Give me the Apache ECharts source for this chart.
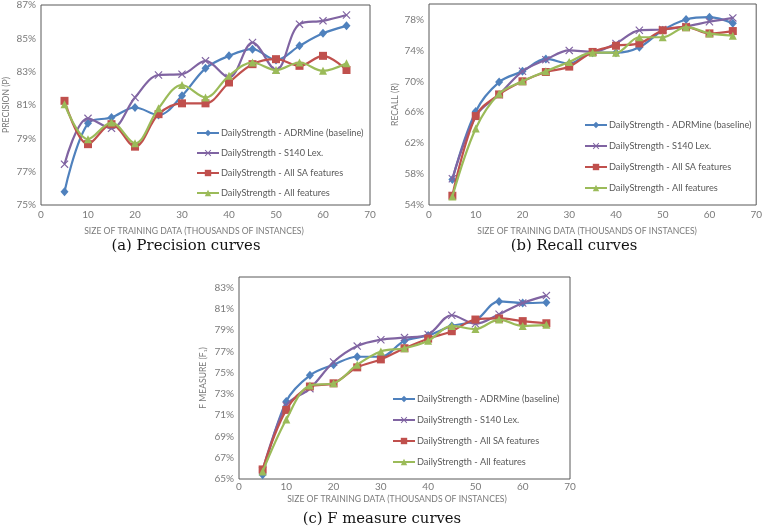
<!DOCTYPE html>
<html>
<head>
<meta charset="utf-8">
<script src="https://cdn.jsdelivr.net/npm/echarts@6/dist/echarts.min.js"></script>
<style>html,body{margin:0;padding:0;background:#fff}#c{width:765px;height:528px}</style>
</head>
<body>
<div id="c"></div>
<script>
const xValues = [5, 10, 15, 20, 25, 30, 35, 40, 45, 50, 55, 60, 65];
const seriesNames = [
  'DailyStrength - ADRMine (baseline)',
  'DailyStrength - S140 Lex.',
  'DailyStrength - All SA features',
  'DailyStrength - All features'
];
// Precision (a)
const precBaseline = [75.8, 79.9, 80.25, 80.85, 80.4, 81.55, 83.2, 83.95, 84.35, 83.7, 84.55, 85.3, 85.75];
const precS140     = [77.45, 80.2, 79.6, 81.45, 82.8, 82.85, 83.65, 82.65, 84.75, 83.1, 85.85, 86.05, 86.4];
const precAllSA    = [81.25, 78.65, 79.85, 78.5, 80.45, 81.1, 81.1, 82.35, 83.45, 83.75, 83.35, 83.95, 83.1];
const precAll      = [81.05, 78.95, 79.95, 78.7, 80.8, 82.2, 81.45, 82.75, 83.55, 83.1, 83.55, 83.05, 83.5];
// Recall (b)
const recBaseline = [57.3, 66.1, 69.9, 71.3, 72.9, 72.3, 73.7, 73.7, 74.4, 76.6, 78.0, 78.3, 77.5];
const recS140     = [57.4, 65.5, 68.3, 71.3, 72.8, 74.0, 73.8, 74.9, 76.6, 76.7, 77.1, 77.7, 78.2];
const recAllSA    = [55.2, 65.5, 68.3, 70.0, 71.2, 71.9, 73.8, 74.6, 74.9, 76.6, 77.0, 76.2, 76.5];
const recAll      = [55.1, 63.9, 68.4, 70.0, 71.3, 72.5, 73.7, 73.7, 75.7, 75.7, 77.0, 76.2, 75.9];
// F measure (c)
const fBaseline = [65.4, 72.3, 74.75, 75.75, 76.5, 76.5, 78.0, 78.5, 79.4, 79.9, 81.7, 81.55, 81.6];
const fS140     = [65.8, 71.9, 73.5, 76.0, 77.5, 78.1, 78.3, 78.6, 80.4, 79.6, 80.5, 81.55, 82.25];
const fAllSA    = [65.9, 71.5, 73.7, 74.0, 75.5, 76.25, 77.3, 78.2, 78.9, 80.0, 80.1, 79.85, 79.65];
const fAll      = [65.7, 70.6, 73.8, 74.0, 75.75, 77.0, 77.3, 78.0, 79.4, 79.1, 80.0, 79.4, 79.5];

const xTicks = [0, 10, 20, 30, 40, 50, 60, 70];
const precTicks = [75, 77, 79, 81, 83, 85, 87];
const recTicks = [54, 58, 62, 66, 70, 74, 78];
const fTicks = [65, 67, 69, 71, 73, 75, 77, 79, 81, 83];

const xName = 'SIZE OF TRAINING DATA (THOUSANDS OF INSTANCES)';
const yNames = ['PRECISION (P)', 'RECALL (R)', 'F MEASURE (F\u2081)'];
const captions = ['(a) Precision curves', '(b) Recall curves', '(c) F measure curves'];

const colors = ['#4F81BD', '#8064A2', '#C0504D', '#9BBB59'];
const xSym = 'path://M1,0L5,4L9,0L10,1L6,5L10,9L9,10L5,6L1,10L0,9L4,5L0,1Z';
const symbols = ['diamond', xSym, 'rect', 'triangle'];
const symSizes = [[8, 9], 8, 8, 8];

const panels = [
  {data: [precBaseline, precS140, precAllSA, precAll], ticks: precTicks, min: 75, max: 87, step: 1,
   grid: {left: 41, top: 4, width: 329, height: 201},
   legend: {left: 196, top: 127, itemGap: 8},
   xNamePad: [0, 23, 0, 0], xNameGap: 22, xLabelMargin: 5, yNameGap: 30, caption: [186, 246]},
  {data: [recBaseline, recS140, recAllSA, recAll], ticks: recTicks, min: 54, max: 80, step: 2,
   grid: {left: 429, top: 4, width: 329, height: 201},
   legend: {left: 584, top: 119, itemGap: 9},
   xNamePad: [0, 11, 0, 0], xNameGap: 22, xLabelMargin: 5, yNameGap: 29, caption: [574, 246]},
  {data: [fBaseline, fS140, fAllSA, fAll], ticks: fTicks, min: 65, max: 84, step: 1,
   grid: {left: 239, top: 277, width: 331, height: 202},
   legend: {left: 392, top: 393, itemGap: 9},
   xNamePad: [0, 15, 0, 0], xNameGap: 16, xLabelMargin: 3, yNameGap: 31, caption: [382, 519]}
];

const labelFont = 'Lato, "Open Sans", sans-serif';
const grids = [], xAxes = [], yAxes = [], series = [], legends = [], graphics = [];
panels.forEach((p, pi) => {
  grids.push(Object.assign({show: true, borderColor: '#595959', borderWidth: 1, backgroundColor: 'transparent'}, p.grid));
  xAxes.push({
    type: 'value', gridIndex: pi, min: xTicks[0], max: xTicks[xTicks.length - 1], interval: 10,
    name: xName, nameLocation: 'middle', nameGap: p.xNameGap,
    nameTextStyle: {fontFamily: labelFont, fontSize: 8.6, color: '#7a7a7a', padding: p.xNamePad},
    axisLine: {show: false}, axisTick: {show: false}, splitLine: {show: false},
    axisLabel: {fontFamily: labelFont, fontSize: 10, color: '#7a7a7a', margin: p.xLabelMargin}
  });
  const tickSet = new Set(p.ticks);
  yAxes.push({
    type: 'value', gridIndex: pi, min: p.min, max: p.max, interval: p.step,
    name: yNames[pi], nameLocation: 'middle', nameGap: p.yNameGap, nameRotate: 90,
    nameTextStyle: {fontFamily: labelFont, fontSize: 8.6, color: '#7a7a7a'},
    axisLine: {show: false}, axisTick: {show: false}, splitLine: {show: false},
    axisLabel: {fontFamily: labelFont, fontSize: 10, color: '#7a7a7a', margin: 5,
      formatter: v => tickSet.has(Math.round(v)) && Math.abs(v - Math.round(v)) < 1e-6 ? Math.round(v) + '%' : ''}
  });
  p.data.forEach((arr, si) => {
    series.push({
      type: 'line', name: seriesNames[si], xAxisIndex: pi, yAxisIndex: pi,
      data: xValues.map((x, i) => [x, arr[i]]),
      smooth: 0.35, symbol: symbols[si], symbolSize: symSizes[si],
      lineStyle: {width: 2.2, color: colors[si]},
      itemStyle: {color: colors[si]},
      emphasis: {disabled: true}, animation: false, z: 2 + si
    });
  });
  legends.push({
    orient: 'vertical', left: p.legend.left, top: p.legend.top, itemGap: p.legend.itemGap,
    padding: 0, itemWidth: 22, itemHeight: 8, selectedMode: false, data: seriesNames,
    textStyle: {fontFamily: labelFont, fontSize: 9.2, color: '#595959', lineHeight: 12, padding: [0, 0, 0, -3]}
  });
  graphics.push({
    type: 'text', x: p.caption[0], y: p.caption[1],
    style: {text: captions[pi], fontFamily: '"DejaVu Serif", serif', fontSize: 14.8, fill: '#111',
      textAlign: 'center', textVerticalAlign: 'middle'}
  });
});

const chart = echarts.init(document.getElementById('c'), null, {renderer: 'canvas'});
chart.setOption({
  backgroundColor: '#fff', animation: false, color: colors,
  grid: grids, xAxis: xAxes, yAxis: yAxes, series: series, legend: legends, graphic: graphics
});
</script>
</body>
</html>
